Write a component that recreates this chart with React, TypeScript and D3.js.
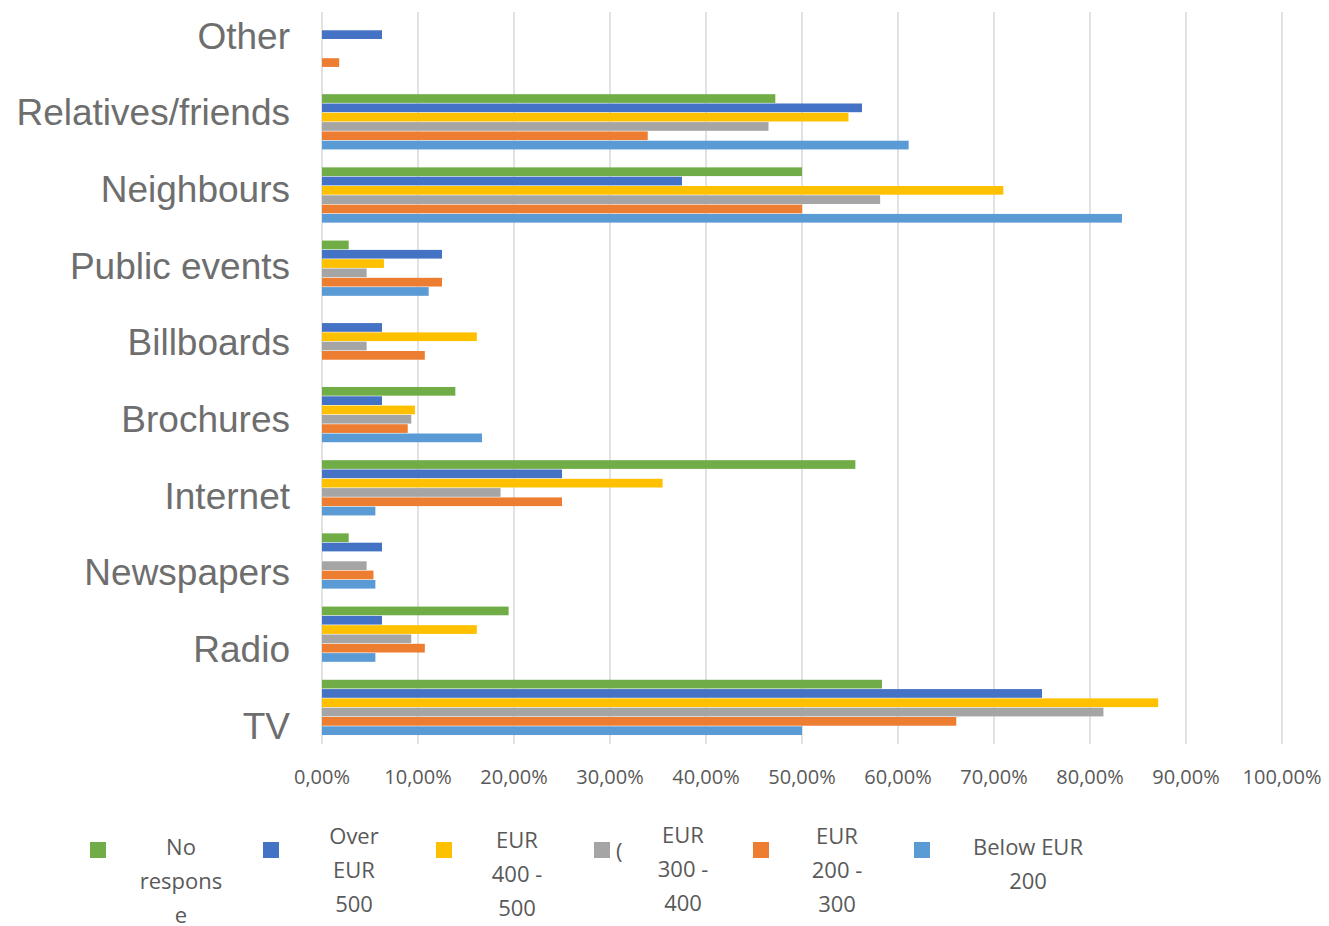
import React from "react";
import * as d3 from "d3";

const categories = [
  "Other",
  "Relatives/friends",
  "Neighbours",
  "Public events",
  "Billboards",
  "Brochures",
  "Internet",
  "Newspapers",
  "Radio",
  "TV",
];

const seriesNames = [
  "No response",
  "Over EUR 500",
  "EUR 400 - 500",
  "EUR 300 - 400",
  "EUR 200 - 300",
  "Below EUR 200",
];

const seriesColors = ["#70AD47", "#4472C4", "#FFC000", "#A5A5A5", "#ED7D31", "#5B9BD5"];

// values in percent, in category order above
const noResponse = [0, 47.22, 50.0, 2.78, 0, 13.89, 55.56, 2.78, 19.44, 58.33];
const overEur500 = [6.25, 56.25, 37.5, 12.5, 6.25, 6.25, 25.0, 6.25, 6.25, 75.0];
const eur400to500 = [0, 54.84, 70.97, 6.45, 16.13, 9.68, 35.48, 0, 16.13, 87.1];
const eur300to400 = [0, 46.51, 58.14, 4.65, 4.65, 9.3, 18.6, 4.65, 9.3, 81.4];
const eur200to300 = [1.79, 33.93, 50.0, 12.5, 10.71, 8.93, 25.0, 5.36, 10.71, 66.07];
const belowEur200 = [0, 61.11, 83.33, 11.11, 0, 16.67, 5.56, 5.56, 5.56, 50.0];

const seriesValues = [noResponse, overEur500, eur400to500, eur300to400, eur200to300, belowEur200];

const xTicks = [0, 10, 20, 30, 40, 50, 60, 70, 80, 90, 100];

const legendLines = [
  ["No", "respons", "e"],
  ["Over", "EUR", "500"],
  ["EUR", "400 -", "500"],
  ["EUR", "300 -", "400"],
  ["EUR", "200 -", "300"],
  ["Below EUR", "200"],
];

const W = 1329;
const H = 926;
const TEXT = "#595959";
const CAT_TEXT = "#6E6E6E";

export default function App() {
  const x = d3.scaleLinear().domain([0, 100]).range([322, 1282]);
  const y = d3
    .scaleBand<string>()
    .domain(categories)
    .range([12, 744])
    .paddingInner(0.237)
    .paddingOuter(0.1185);
  const yInner = d3
    .scaleBand<string>()
    .domain(seriesNames)
    .range([0, y.bandwidth()])
    .padding(0);
  const yLabel = d3.scalePoint<string>().domain(categories).range([36, 726]);

  const fmt = (v: number) => d3.format(".2f")(v).replace(".", ",") + "%";

  // legend layout
  const legendSquareX = [90, 263, 436, 594, 753, 914];
  const legendTextX = [181, 354, 517, 683, 837, 1028];
  const legendFirstY = [846, 835, 839, 834, 835, 846];

  return (
    <svg
      width={W}
      height={H}
      style={{ position: "absolute", left: 0, top: 0, background: "#fff" }}
    >
      <rect x={0} y={0} width={W} height={H} fill="#fff" />
      {/* gridlines */}
      {xTicks.map((t) => (
        <line
          key={"g" + t}
          x1={x(t)}
          x2={x(t)}
          y1={12}
          y2={744}
          stroke="#D9D9D9"
          strokeWidth={1.5}
        />
      ))}
      {/* bars */}
      {categories.map((c, ci) => (
        <g key={c} transform={`translate(0,${y(c)})`}>
          {seriesNames.map((s, si) => {
            const v = seriesValues[si][ci];
            if (!v) return null;
            return (
              <rect
                key={s}
                x={x(0)}
                y={(yInner(s) as number) + 0.3}
                width={x(v) - x(0)}
                height={yInner.bandwidth() - 0.6}
                fill={seriesColors[si]}
              />
            );
          })}
        </g>
      ))}
      {/* category labels */}
      {categories.map((c) => (
        <text
          key={"l" + c}
          x={290}
          y={yLabel(c)}
          textAnchor="end"
          dominantBaseline="central"
          fontFamily="'Liberation Sans', Arial, sans-serif"
          fontSize={37}
          fill={CAT_TEXT}
        >
          {c}
        </text>
      ))}
      {/* x tick labels */}
      {xTicks.map((t) => (
        <text
          key={"t" + t}
          x={x(t)}
          y={776}
          textAnchor="middle"
          dominantBaseline="central"
          fontFamily="'Open Sans', sans-serif"
          fontSize={20}
          fill={TEXT}
        >
          {fmt(t)}
        </text>
      ))}
      {/* legend */}
      {seriesNames.map((s, i) => (
        <g key={"lg" + s}>
          <rect x={legendSquareX[i]} y={842} width={16} height={16} fill={seriesColors[i]} />
          {legendLines[i].map((ln, li) => (
            <text
              key={li}
              x={legendTextX[i]}
              y={legendFirstY[i] + li * 34}
              textAnchor="middle"
              dominantBaseline="central"
              fontFamily="'Open Sans', sans-serif"
              fontSize={22}
              fill={TEXT}
            >
              {ln}
            </text>
          ))}
        </g>
      ))}
      <text
        x={616}
        y={850}
        dominantBaseline="central"
        fontFamily="'Open Sans', sans-serif"
        fontSize={22}
        fill={TEXT}
      >
        (
      </text>
    </svg>
  );
}
